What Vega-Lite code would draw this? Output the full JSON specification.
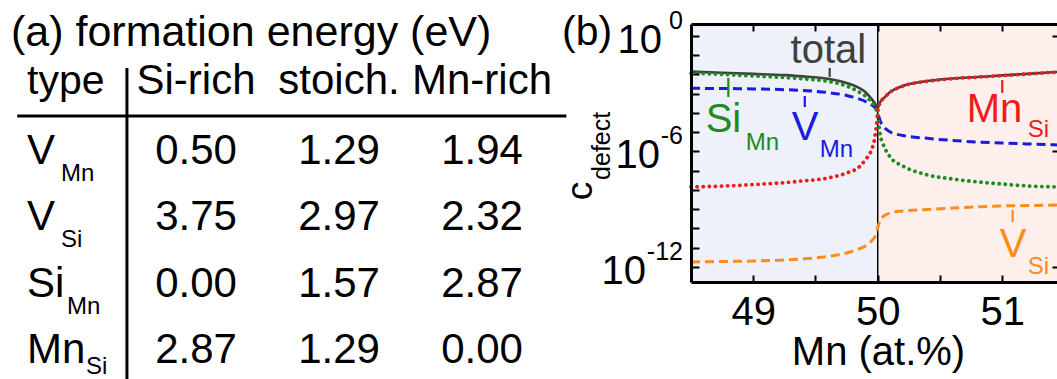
{
 "$schema": "https://vega.github.io/schema/vega-lite/v6.json",
 "width": 366, "height": 258,
 "autosize": "none",
 "padding": {"left": 691, "top": 24, "right": 0, "bottom": 97},
 "background": "white",
 "config": {"view": {"stroke": null}, "font": "Liberation Sans"},
 "datasets": {
  "bg": [{"s": "lo", "x": 48.5, "x2": 50}, {"s": "hi", "x": 50, "x2": 51.44}],
  "curves": [
   {"s":"total","x":48.5,"y":1.40e-2},{"s":"total","x":48.75,"y":1.23e-2},{"s":"total","x":49.0,"y":1.07e-2},{"s":"total","x":49.25,"y":9.2e-3},{"s":"total","x":49.4,"y":7.94e-3},{"s":"total","x":49.6,"y":5.89e-3},{"s":"total","x":49.75,"y":3.63e-3},{"s":"total","x":49.85,"y":2.0e-3},{"s":"total","x":49.9,"y":1.23e-3},{"s":"total","x":49.95,"y":5.37e-4},{"s":"total","x":49.98,"y":2.95e-4},{"s":"total","x":50.0,"y":1.82e-4},{"s":"total","x":50.02,"y":3.72e-4},{"s":"total","x":50.05,"y":6.03e-4},{"s":"total","x":50.1,"y":1.23e-3},{"s":"total","x":50.2,"y":2.51e-3},{"s":"total","x":50.4,"y":4.57e-3},{"s":"total","x":50.6,"y":6.17e-3},{"s":"total","x":50.8,"y":7.41e-3},{"s":"total","x":51.0,"y":8.91e-3},{"s":"total","x":51.2,"y":1.07e-2},{"s":"total","x":51.44,"y":1.35e-2},
   {"s":"Si_Mn","x":48.5,"y":1.15e-2},{"s":"Si_Mn","x":48.75,"y":1.0e-2},{"s":"Si_Mn","x":49.0,"y":8.32e-3},{"s":"Si_Mn","x":49.25,"y":6.92e-3},{"s":"Si_Mn","x":49.4,"y":5.89e-3},{"s":"Si_Mn","x":49.6,"y":4.37e-3},{"s":"Si_Mn","x":49.75,"y":2.51e-3},{"s":"Si_Mn","x":49.85,"y":1.23e-3},{"s":"Si_Mn","x":49.9,"y":7.59e-4},{"s":"Si_Mn","x":49.95,"y":3.72e-4},{"s":"Si_Mn","x":49.98,"y":2.04e-4},{"s":"Si_Mn","x":50.0,"y":7.94e-5},{"s":"Si_Mn","x":50.01,"y":2.4e-5},{"s":"Si_Mn","x":50.02,"y":7.24e-6},{"s":"Si_Mn","x":50.04,"y":2.75e-6},{"s":"Si_Mn","x":50.1,"y":5.13e-7},{"s":"Si_Mn","x":50.2,"y":1.78e-7},{"s":"Si_Mn","x":50.4,"y":6.03e-8},{"s":"Si_Mn","x":50.6,"y":3.72e-8},{"s":"Si_Mn","x":50.8,"y":2.63e-8},{"s":"Si_Mn","x":51.0,"y":2.04e-8},{"s":"Si_Mn","x":51.2,"y":1.62e-8},{"s":"Si_Mn","x":51.44,"y":1.45e-8},
   {"s":"V_Mn","x":48.5,"y":1.91e-3},{"s":"V_Mn","x":48.75,"y":1.86e-3},{"s":"V_Mn","x":49.0,"y":1.78e-3},{"s":"V_Mn","x":49.25,"y":1.62e-3},{"s":"V_Mn","x":49.4,"y":1.48e-3},{"s":"V_Mn","x":49.6,"y":1.15e-3},{"s":"V_Mn","x":49.75,"y":8.13e-4},{"s":"V_Mn","x":49.85,"y":5.37e-4},{"s":"V_Mn","x":49.9,"y":3.98e-4},{"s":"V_Mn","x":49.95,"y":2.63e-4},{"s":"V_Mn","x":49.98,"y":1.82e-4},{"s":"V_Mn","x":50.0,"y":1.0e-4},{"s":"V_Mn","x":50.02,"y":3.8e-5},{"s":"V_Mn","x":50.05,"y":1.86e-5},{"s":"V_Mn","x":50.1,"y":1.02e-5},{"s":"V_Mn","x":50.2,"y":6.76e-6},{"s":"V_Mn","x":50.4,"y":4.79e-6},{"s":"V_Mn","x":50.6,"y":3.72e-6},{"s":"V_Mn","x":50.8,"y":3.09e-6},{"s":"V_Mn","x":51.0,"y":2.75e-6},{"s":"V_Mn","x":51.2,"y":2.45e-6},{"s":"V_Mn","x":51.44,"y":2.19e-6},
   {"s":"Mn_Si","x":48.5,"y":1.45e-8},{"s":"Mn_Si","x":48.75,"y":1.58e-8},{"s":"Mn_Si","x":49.0,"y":1.91e-8},{"s":"Mn_Si","x":49.25,"y":2.4e-8},{"s":"Mn_Si","x":49.4,"y":2.95e-8},{"s":"Mn_Si","x":49.6,"y":4.17e-8},{"s":"Mn_Si","x":49.75,"y":7.59e-8},{"s":"Mn_Si","x":49.85,"y":1.55e-7},{"s":"Mn_Si","x":49.9,"y":3.63e-7},{"s":"Mn_Si","x":49.95,"y":1.2e-6},{"s":"Mn_Si","x":49.97,"y":3.16e-6},{"s":"Mn_Si","x":49.99,"y":2.4e-5},{"s":"Mn_Si","x":50.0,"y":1.12e-4},{"s":"Mn_Si","x":50.01,"y":2.4e-4},{"s":"Mn_Si","x":50.02,"y":3.63e-4},{"s":"Mn_Si","x":50.05,"y":5.89e-4},{"s":"Mn_Si","x":50.1,"y":1.2e-3},{"s":"Mn_Si","x":50.2,"y":2.45e-3},{"s":"Mn_Si","x":50.4,"y":4.47e-3},{"s":"Mn_Si","x":50.6,"y":6.03e-3},{"s":"Mn_Si","x":50.8,"y":7.24e-3},{"s":"Mn_Si","x":51.0,"y":8.71e-3},{"s":"Mn_Si","x":51.2,"y":1.05e-2},{"s":"Mn_Si","x":51.44,"y":1.32e-2},
   {"s":"V_Si","x":48.5,"y":1.82e-12},{"s":"V_Si","x":48.75,"y":1.91e-12},{"s":"V_Si","x":49.0,"y":2.04e-12},{"s":"V_Si","x":49.25,"y":2.29e-12},{"s":"V_Si","x":49.4,"y":2.63e-12},{"s":"V_Si","x":49.6,"y":3.55e-12},{"s":"V_Si","x":49.75,"y":5.37e-12},{"s":"V_Si","x":49.85,"y":8.71e-12},{"s":"V_Si","x":49.9,"y":1.23e-11},{"s":"V_Si","x":49.95,"y":2.24e-11},{"s":"V_Si","x":49.98,"y":4.07e-11},{"s":"V_Si","x":50.0,"y":1.07e-10},{"s":"V_Si","x":50.02,"y":2.75e-10},{"s":"V_Si","x":50.05,"y":4.47e-10},{"s":"V_Si","x":50.1,"y":6.46e-10},{"s":"V_Si","x":50.2,"y":8.13e-10},{"s":"V_Si","x":50.4,"y":9.77e-10},{"s":"V_Si","x":50.6,"y":1.15e-9},{"s":"V_Si","x":50.8,"y":1.32e-9},{"s":"V_Si","x":51.0,"y":1.48e-9},{"s":"V_Si","x":51.2,"y":1.55e-9},{"s":"V_Si","x":51.44,"y":1.66e-9}
  ],
  "pointers": [
   {"s":"total","x":49.614,"y":0.0219,"y2":0.00741},
   {"s":"Si_Mn","x":48.8,"y":0.00661,"y2":0.000676},
   {"s":"V_Mn","x":49.414,"y":0.000759,"y2":0.000204},
   {"s":"Mn_Si","x":51.0,"y":0.00513,"y2":0.0011},
   {"s":"V_Si","x":51.084,"y":9.12e-10,"y2":2.19e-10}
  ],
  "labels": [
   {"s":"total","x":49.3,"y":0.0398,"main":"total","sub":""},
   {"s":"Si_Mn","x":48.618,"y":1.03e-5,"main":"Si","sub":"Mn"},
   {"s":"V_Mn","x":49.309,"y":3.98e-6,"main":"V","sub":"Mn"},
   {"s":"Mn_Si","x":50.715,"y":3.4e-5,"main":"Mn","sub":"Si"},
   {"s":"V_Si","x":50.98,"y":3.3e-12,"main":"V","sub":"Si"}
  ],
  "ylabs": [{"v": 1, "e": "0"}, {"v": 1e-6, "e": "-6"}, {"v": 1e-12, "e": "-12"}],
  "cells": [
   {"r":1,"c":1,"v":"0.50"},{"r":1,"c":2,"v":"1.29"},{"r":1,"c":3,"v":"1.94"},
   {"r":2,"c":1,"v":"3.75"},{"r":2,"c":2,"v":"2.97"},{"r":2,"c":3,"v":"2.32"},
   {"r":3,"c":1,"v":"0.00"},{"r":3,"c":2,"v":"1.57"},{"r":3,"c":3,"v":"2.87"},
   {"r":4,"c":1,"v":"2.87"},{"r":4,"c":2,"v":"1.29"},{"r":4,"c":3,"v":"0.00"}
  ],
  "heads": [{"c":1,"h":"Si-rich"},{"c":2,"h":"stoich."},{"c":3,"h":"Mn-rich"}],
  "types": [
   {"r":1,"main":"V","sub":"Mn"},{"r":2,"main":"V","sub":"Si"},
   {"r":3,"main":"Si","sub":"Mn"},{"r":4,"main":"Mn","sub":"Si"}
  ]
 },
 "layer": [
  {
   "layer": [
    {
     "data": {"name": "bg"},
     "mark": {"type": "rect"},
     "encoding": {
      "x": {"field": "x", "type": "quantitative", "scale": {"domain": [48.5, 51.44], "nice": false, "zero": false}, "axis": null},
      "x2": {"field": "x2"},
      "color": {"field": "s", "type": "nominal", "legend": null, "scale": {"domain": ["lo","hi","total","Si_Mn","V_Mn","Mn_Si","V_Si"], "range": ["#eef0fa","#fcefec","#404040","#1e8c1e","#1a1ae0","#ee1c1c","#ff8c1a"]}}
     }
    },
    {
     "data": {"values": [{}]},
     "mark": {"type": "rule", "color": "#000", "strokeWidth": 1.5},
     "encoding": {"x": {"datum": 50, "type": "quantitative", "axis": null}}
    },
    {
     "data": {"name": "curves"},
     "transform": [{"filter": "datum.s == 'total'"}],
     "mark": {"type": "line", "strokeWidth": 2.6, "interpolate": "monotone"},
     "encoding": {
      "x": {"field": "x", "type": "quantitative", "scale": {"domain": [48.5, 51.44], "nice": false, "zero": false},
       "axis": {"orient": "bottom", "zindex": 1, "values": [49, 49.5, 50, 50.5, 51], "labelExpr": "datum.value % 1 == 0 ? format(datum.value, 'd') : ''", "tickSize": -7, "tickWidth": 2, "tickColor": "#000", "domainColor": "#000", "domainWidth": 3, "labelFontSize": 40, "labelColor": "#000", "labelPadding": 49, "labelBaseline": "alphabetic", "labelFlush": false, "labelOverlap": false, "grid": false, "title": "Mn (at.%)", "titleFontSize": 40, "titleFontWeight": "normal", "titleColor": "#000", "titleX": 187, "titleY": 82, "titleBaseline": "alphabetic", "titleAlign": "center"}},
      "y": {"field": "y", "type": "quantitative", "scale": {"type": "log", "domain": [1.66e-13, 4.17], "nice": false},
       "axis": {"orient": "left", "zindex": 1, "values": [1, 0.1, 0.01, 0.001, 1e-4, 1e-5, 1e-6, 1e-7, 1e-8, 1e-9, 1e-10, 1e-11, 1e-12], "labels": false, "tickSize": -8, "tickWidth": 2, "tickColor": "#000", "domainColor": "#000", "domainWidth": 3, "grid": false, "title": null}},
      "color": {"field": "s", "type": "nominal", "legend": null}
     }
    },
    {
     "data": {"name": "curves"},
     "transform": [{"filter": "datum.s == 'V_Mn' || datum.s == 'V_Si'"}],
     "mark": {"type": "line", "strokeWidth": 3, "strokeDash": [9, 5], "interpolate": "monotone"},
     "encoding": {
      "x": {"field": "x", "type": "quantitative", "axis": null},
      "y": {"field": "y", "type": "quantitative", "axis": null},
      "color": {"field": "s", "type": "nominal", "legend": null}
     }
    },
    {
     "data": {"name": "curves"},
     "transform": [{"filter": "datum.s == 'Si_Mn' || datum.s == 'Mn_Si'"}],
     "mark": {"type": "line", "strokeWidth": 3.8, "strokeDash": [0.1, 6], "strokeCap": "round", "interpolate": "monotone"},
     "encoding": {
      "x": {"field": "x", "type": "quantitative", "axis": null},
      "y": {"field": "y", "type": "quantitative", "axis": null},
      "color": {"field": "s", "type": "nominal", "legend": null}
     }
    },
    {
     "data": {"name": "pointers"},
     "mark": {"type": "rule", "strokeWidth": 2.2},
     "encoding": {
      "x": {"field": "x", "type": "quantitative",
       "axis": {"orient": "top", "zindex": 1, "values": [49, 49.5, 50, 50.5, 51], "labels": false, "tickSize": -7, "tickWidth": 2, "tickColor": "#000", "domainColor": "#000", "domainWidth": 3, "grid": false, "title": null}},
      "y": {"field": "y", "type": "quantitative",
       "axis": {"orient": "right", "zindex": 1, "values": [1, 1e-6, 1e-12], "labels": false, "domain": false, "tickSize": -5, "tickWidth": 2, "tickColor": "#000", "grid": false, "title": null}},
      "y2": {"field": "y2"},
      "color": {"field": "s", "type": "nominal", "legend": null}
     }
    },
    {
     "data": {"name": "labels"},
     "mark": {"type": "text", "align": "left", "baseline": "alphabetic", "fontSize": 40},
     "encoding": {
      "x": {"field": "x", "type": "quantitative", "axis": null},
      "y": {"field": "y", "type": "quantitative", "axis": null},
      "text": {"field": "main"},
      "color": {"field": "s", "type": "nominal", "legend": null}
     }
    },
    {
     "data": {"name": "labels"},
     "transform": [{"filter": "datum.main == 'V'"}],
     "mark": {"type": "text", "align": "left", "baseline": "alphabetic", "fontSize": 24, "dx": 28, "dy": 17},
     "encoding": {
      "x": {"field": "x", "type": "quantitative", "axis": null},
      "y": {"field": "y", "type": "quantitative", "axis": null},
      "text": {"field": "sub"},
      "color": {"field": "s", "type": "nominal", "legend": null}
     }
    },
    {
     "data": {"name": "labels"},
     "transform": [{"filter": "datum.main == 'Si'"}],
     "mark": {"type": "text", "align": "left", "baseline": "alphabetic", "fontSize": 24, "dx": 40, "dy": 18},
     "encoding": {
      "x": {"field": "x", "type": "quantitative", "axis": null},
      "y": {"field": "y", "type": "quantitative", "axis": null},
      "text": {"field": "sub"},
      "color": {"field": "s", "type": "nominal", "legend": null}
     }
    },
    {
     "data": {"name": "labels"},
     "transform": [{"filter": "datum.main == 'Mn'"}],
     "mark": {"type": "text", "align": "left", "baseline": "alphabetic", "fontSize": 24, "dx": 61, "dy": 15},
     "encoding": {
      "x": {"field": "x", "type": "quantitative", "axis": null},
      "y": {"field": "y", "type": "quantitative", "axis": null},
      "text": {"field": "sub"},
      "color": {"field": "s", "type": "nominal", "legend": null}
     }
    },
    {
     "data": {"name": "ylabs"},
     "mark": {"type": "text", "align": "right", "baseline": "alphabetic", "fontSize": 25, "color": "#000", "dx": -8, "dy": -7},
     "encoding": {
      "x": {"datum": 48.5, "type": "quantitative", "axis": null},
      "y": {"field": "v", "type": "quantitative", "axis": null},
      "text": {"field": "e"}
     }
    },
    {
     "data": {"name": "ylabs"},
     "transform": [{"filter": "datum.e == '0'"}],
     "mark": {"type": "text", "align": "right", "baseline": "alphabetic", "fontSize": 40, "color": "#000", "dx": -29, "dy": 17},
     "encoding": {
      "x": {"datum": 48.5, "type": "quantitative", "axis": null},
      "y": {"field": "v", "type": "quantitative", "axis": null},
      "text": {"value": "10"}
     }
    },
    {
     "data": {"name": "ylabs"},
     "transform": [{"filter": "datum.e == '-6'"}],
     "mark": {"type": "text", "align": "right", "baseline": "alphabetic", "fontSize": 40, "color": "#000", "dx": -31, "dy": 17},
     "encoding": {
      "x": {"datum": 48.5, "type": "quantitative", "axis": null},
      "y": {"field": "v", "type": "quantitative", "axis": null},
      "text": {"value": "10"}
     }
    },
    {
     "data": {"name": "ylabs"},
     "transform": [{"filter": "datum.e == '-12'"}],
     "mark": {"type": "text", "align": "right", "baseline": "alphabetic", "fontSize": 40, "color": "#000", "dx": -45, "dy": 17},
     "encoding": {
      "x": {"datum": 48.5, "type": "quantitative", "axis": null},
      "y": {"field": "v", "type": "quantitative", "axis": null},
      "text": {"value": "10"}
     }
    },
    {
     "data": {"values": [{}]},
     "mark": {"type": "text", "align": "center", "baseline": "alphabetic", "fontSize": 37, "angle": 270, "color": "#000"},
     "encoding": {
      "x": {"datum": 47.705, "type": "quantitative", "axis": null},
      "y": {"datum": 8.9e-9, "type": "quantitative", "axis": null},
      "text": {"value": "c"}
     }
    },
    {
     "data": {"values": [{}]},
     "mark": {"type": "text", "align": "center", "baseline": "alphabetic", "fontSize": 25, "angle": 270, "color": "#000"},
     "encoding": {
      "x": {"datum": 47.849, "type": "quantitative", "axis": null},
      "y": {"datum": 1.95e-6, "type": "quantitative", "axis": null},
      "text": {"value": "defect"}
     }
    },
    {
     "data": {"values": [{}]},
     "mark": {"type": "text", "align": "left", "baseline": "alphabetic", "fontSize": 41, "color": "#000"},
     "encoding": {
      "x": {"datum": 47.464, "type": "quantitative", "axis": null},
      "y": {"datum": 0.34, "type": "quantitative", "axis": null},
      "text": {"value": "(b)"}
     }
    }
   ],
   "resolve": {"axis": {"x": "independent", "y": "independent"}}
  },
  {
   "layer": [
    {
     "data": {"values": [{}]},
     "mark": {"type": "text", "align": "left", "baseline": "alphabetic", "fontSize": 43, "color": "#000"},
     "encoding": {
      "x": {"datum": -0.294, "type": "quantitative", "scale": {"domain": [1, 3], "range": [-495, -209], "nice": false, "zero": false}, "axis": null},
      "y": {"datum": -0.779, "type": "quantitative", "scale": {"domain": [1, 4], "range": [140, 339], "nice": false, "zero": false}, "axis": null},
      "text": {"value": "(a) formation energy (eV)"}
     }
    },
    {
     "data": {"values": [{}]},
     "mark": {"type": "text", "align": "left", "baseline": "alphabetic", "fontSize": 41, "color": "#000", "dx": -26, "dy": -4},
     "encoding": {
      "x": {"datum": 0, "type": "quantitative", "axis": null},
      "y": {"datum": 0, "type": "quantitative", "axis": null},
      "text": {"value": "type"}
     }
    },
    {
     "data": {"name": "heads"},
     "mark": {"type": "text", "align": "center", "baseline": "alphabetic", "fontSize": 42, "color": "#000", "dy": -4},
     "encoding": {
      "x": {"field": "c", "type": "quantitative", "axis": null},
      "y": {"datum": 0, "type": "quantitative", "axis": null},
      "text": {"field": "h"}
     }
    },
    {
     "data": {"name": "cells"},
     "mark": {"type": "text", "align": "center", "baseline": "alphabetic", "fontSize": 42, "color": "#000"},
     "encoding": {
      "x": {"field": "c", "type": "quantitative", "axis": null},
      "y": {"field": "r", "type": "quantitative", "axis": null},
      "text": {"field": "v"}
     }
    },
    {
     "data": {"name": "types"},
     "mark": {"type": "text", "align": "left", "baseline": "alphabetic", "fontSize": 42, "color": "#000", "dx": -26},
     "encoding": {
      "x": {"datum": 0, "type": "quantitative", "axis": null},
      "y": {"field": "r", "type": "quantitative", "axis": null},
      "text": {"field": "main"}
     }
    },
    {
     "data": {"name": "types"},
     "transform": [{"filter": "datum.main == 'V'"}],
     "mark": {"type": "text", "align": "left", "baseline": "alphabetic", "fontSize": 24, "color": "#000", "dx": 8, "dy": 17},
     "encoding": {
      "x": {"datum": 0, "type": "quantitative", "axis": null},
      "y": {"field": "r", "type": "quantitative", "axis": null},
      "text": {"field": "sub"}
     }
    },
    {
     "data": {"name": "types"},
     "transform": [{"filter": "datum.main == 'Si'"}],
     "mark": {"type": "text", "align": "left", "baseline": "alphabetic", "fontSize": 24, "color": "#000", "dx": 14, "dy": 17},
     "encoding": {
      "x": {"datum": 0, "type": "quantitative", "axis": null},
      "y": {"field": "r", "type": "quantitative", "axis": null},
      "text": {"field": "sub"}
     }
    },
    {
     "data": {"name": "types"},
     "transform": [{"filter": "datum.main == 'Mn'"}],
     "mark": {"type": "text", "align": "left", "baseline": "alphabetic", "fontSize": 24, "color": "#000", "dx": 33, "dy": 11},
     "encoding": {
      "x": {"datum": 0, "type": "quantitative", "axis": null},
      "y": {"field": "r", "type": "quantitative", "axis": null},
      "text": {"field": "sub"}
     }
    },
    {
     "data": {"values": [{}]},
     "mark": {"type": "rule", "color": "#000", "strokeWidth": 3},
     "encoding": {
      "x": {"datum": -0.25, "type": "quantitative", "axis": null},
      "x2": {"datum": 3.59},
      "y": {"datum": 0.276, "type": "quantitative", "axis": null}
     }
    },
    {
     "data": {"values": [{}]},
     "mark": {"type": "rule", "color": "#000", "strokeWidth": 3},
     "encoding": {
      "x": {"datum": 0.517, "type": "quantitative", "axis": null},
      "y": {"datum": -0.447, "type": "quantitative", "axis": null},
      "y2": {"datum": 4.3}
     }
    }
   ]
  }
 ],
 "resolve": {"scale": {"x": "independent", "y": "independent"}}
}
